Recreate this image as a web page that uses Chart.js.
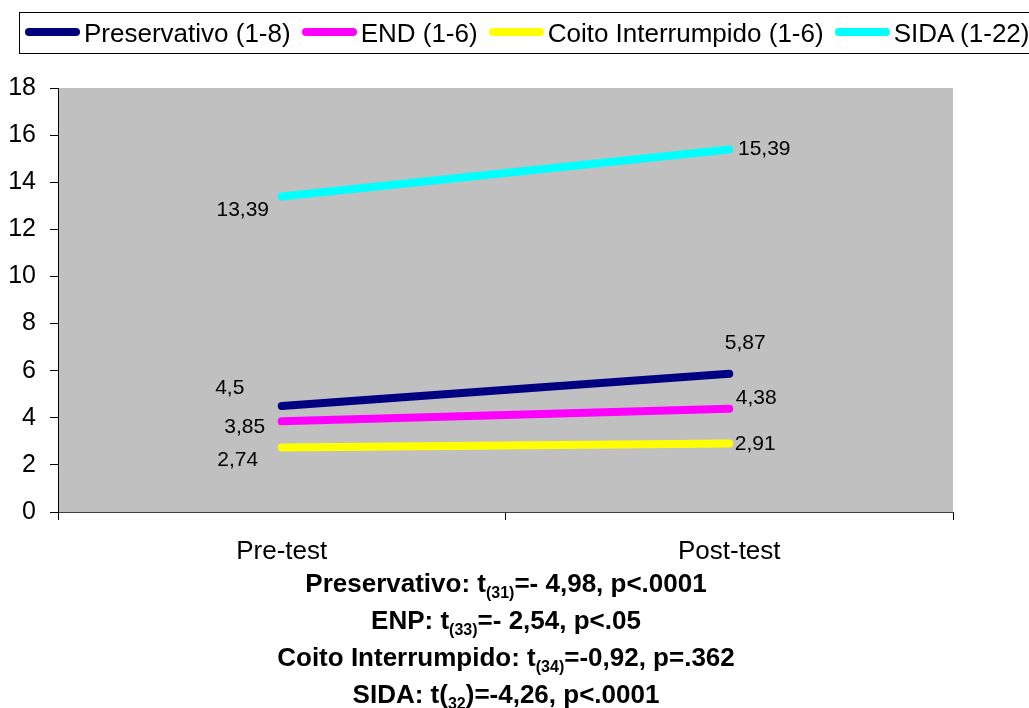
<!DOCTYPE html>
<html lang="pt">

<head>
  <meta charset="UTF-8">
  <title>Pre-test / Post-test</title>
  <script src="https://cdn.jsdelivr.net/npm/chart.js"></script>
  <style>
    body {
      margin: 0;
      background: #fff;
      font-family: Arial, "Liberation Sans", sans-serif;
    }

    #wrap {
      position: relative;
      width: 1029px;
      height: 708px;
      overflow: hidden;
    }

    #legend {
      position: absolute;
      left: 19px;
      top: 12px;
      width: 1040px;
      height: 40px;
      box-sizing: content-box;
      border: 1px solid #000;
      display: flex;
      align-items: center;
      padding-left: 5px;
      font-size: 26px;
      white-space: nowrap;
    }

    #legend .item {
      display: flex;
      align-items: center;
      margin-right: 11px;
    }

    #legend .swatch {
      display: inline-block;
      width: 55px;
      height: 8px;
      border-radius: 4px;
      margin-right: 4px;
      position: relative;
      top: -1px;
    }

    #stats {
      position: absolute;
      left: 0;
      top: 565px;
      width: 1012px;
      text-align: center;
      font-weight: bold;
      font-size: 26px;
      line-height: 37px;
    }

    #stats sub {
      font-size: 16px;
      line-height: 0;
      vertical-align: -6px;
    }
  </style>
</head>

<body>
  <div id="wrap">
    <canvas id="myChart" width="1029" height="708"></canvas>
    <div id="legend"></div>
    <div id="stats">
      <div>Preservativo: t<sub>(31)</sub>=- 4,98, p&lt;.0001</div>
      <div>ENP: t<sub>(33)</sub>=- 2,54, p&lt;.05</div>
      <div>Coito Interrumpido: t<sub>(34)</sub>=-0,92, p=.362</div>
      <div>SIDA: t(<sub>32</sub>)=-4,26, p&lt;.0001</div>
    </div>
  </div>

  <script>
    // Data
    const categories = ['Pre-test', 'Post-test'];
    const seriesNames = ['Preservativo (1-8)', 'END (1-6)', 'Coito Interrumpido (1-6)', 'SIDA (1-22)'];
    const preservativo = [4.5, 5.87];
    const endValues = [3.85, 4.38];
    const coito = [2.74, 2.91];
    const sida = [13.39, 15.39];
    const yTicks = [0, 2, 4, 6, 8, 10, 12, 14, 16, 18];

    const colors = ['#000080', '#FF00FF', '#FFFF00', '#00FFFF'];
    // label offsets from each point [pre, post], in px
    const labelOffsets = [
      [[-52, -18], [16, -31]],
      [[-37, 6], [27, -11]],
      [[-44, 13], [26, 1]],
      [[-39, 14], [35, 0]]
    ];

    const seriesValues = [preservativo, endValues, coito, sida];

    const datasets = seriesValues.map((vals, i) => ({
      label: seriesNames[i],
      data: vals,
      borderColor: colors[i],
      backgroundColor: colors[i],
      borderWidth: 8,
      borderCapStyle: 'round',
      pointRadius: 0,
      tension: 0
    }));

    // html legend
    const legendEl = document.getElementById('legend');
    seriesNames.forEach((name, i) => {
      const item = document.createElement('span');
      item.className = 'item';
      item.innerHTML = '<span class="swatch" style="background:' + colors[i] + '"></span>' + name;
      legendEl.appendChild(item);
    });

    // grey plot background
    const plotBg = {
      id: 'plotBg',
      beforeDraw(chart) {
        const a = chart.chartArea;
        const ctx = chart.ctx;
        ctx.save();
        ctx.fillStyle = '#C0C0C0';
        ctx.fillRect(a.left, a.top, a.right - a.left, a.bottom - a.top);
        ctx.restore();
      }
    };

    // value labels
    const valueLabels = {
      id: 'valueLabels',
      afterDatasetsDraw(chart) {
        const ctx = chart.ctx;
        ctx.save();
        ctx.font = '21px Arial, "Liberation Sans"';
        ctx.fillStyle = '#000';
        ctx.textAlign = 'center';
        ctx.textBaseline = 'middle';
        chart.data.datasets.forEach((ds, i) => {
          chart.getDatasetMeta(i).data.forEach((pt, j) => {
            const off = labelOffsets[i][j];
            const txt = String(ds.data[j]).replace('.', ',');
            ctx.fillText(txt, pt.x + off[0], pt.y + off[1]);
          });
        });
        ctx.restore();
      }
    };

    const config = {
      type: 'line',
      data: { labels: categories, datasets: datasets },
      options: {
        responsive: false,
        animation: false,
        layout: { padding: { left: 0, top: 88, right: 76, bottom: 0 } },
        plugins: {
          legend: { display: false },
          tooltip: { enabled: false }
        },
        scales: {
          x: {
            offset: true,
            border: { display: true, color: '#404040', width: 1 },
            grid: { offset: true, drawOnChartArea: false, tickLength: 8, color: '#000' },
            ticks: { color: '#000', font: { family: 'Arial', size: 26 }, padding: 16 },
            afterFit(scale) { scale.height = 708 - 512; }
          },
          y: {
            min: 0,
            max: 18,
            afterBuildTicks(scale) { scale.ticks = yTicks.map(v => ({ value: v })); },
            border: { display: true, color: '#000', width: 1 },
            grid: { drawOnChartArea: false, tickLength: 8, color: '#000' },
            ticks: { color: '#000', font: { family: 'Arial', size: 25 }, padding: 14 },
            afterFit(scale) { scale.width = 58; }
          }
        }
      },
      plugins: [plotBg, valueLabels]
    };

    const myChart = new Chart(document.getElementById('myChart'), config);
  </script>
</body>

</html>
